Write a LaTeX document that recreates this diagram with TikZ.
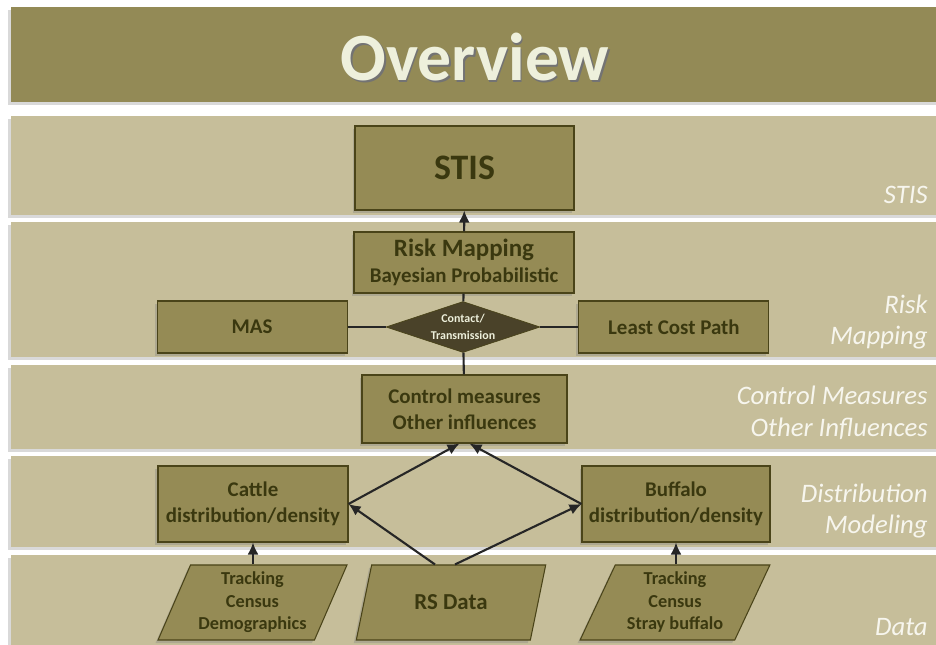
\documentclass[tikz,border=0pt]{standalone}
\usepackage{fontspec}
\setmainfont{Carlito}
\usetikzlibrary{arrows.meta,positioning,shapes.geometric,shadows}

\definecolor{olivebar}{HTML}{938A56}
\definecolor{sandband}{HTML}{C6BE9A}
\definecolor{olivebox}{HTML}{958B55}
\definecolor{olivetext}{HTML}{3A380F}
\definecolor{oliveline}{HTML}{4A4419}
\definecolor{darkdiamond}{HTML}{4A4229}
\definecolor{labelwhite}{HTML}{F7F6EE}
\definecolor{titlewhite}{HTML}{EEF0DC}
\definecolor{linkgray}{HTML}{262626}

\begin{document}
\begin{tikzpicture}[
  x=0.2mm, y=-0.2mm,
  band/.style={fill=sandband,
    drop shadow={shadow xshift=-0.6mm,shadow yshift=-0.7mm,opacity=.3}},
  box/.style={draw=oliveline,line width=0.6pt,fill=olivebox,text=olivetext,
    align=center,inner sep=0pt,font=\bfseries\fontsize{11.9}{14.7}\selectfont,
    drop shadow={shadow xshift=-0.5mm,shadow yshift=-0.6mm,opacity=.35}},
  datum/.style={box,trapezium,trapezium left angle=65,trapezium right angle=115,
    trapezium stretches=true,minimum width=3.8cm,minimum height=1.5cm,
    font=\bfseries\fontsize{10.4}{12.8}\selectfont},
  tier/.style={anchor=east,align=right,inner sep=0pt,text=labelwhite,
    font=\itshape\fontsize{15.2}{18}\selectfont},
  link/.style={draw=linkgray,line width=1.2pt,-{Latex[length=2.4mm,width=2.2mm]}},
  joint/.style={draw=linkgray,line width=1.2pt}
]
  \useasboundingbox (0,0) rectangle (936,645);
  \clip (0,0) rectangle (936,645);

  % title bar and the five tiers
  \fill[olivebar,drop shadow={shadow xshift=-0.6mm,shadow yshift=-0.7mm,opacity=.3}]
    (11,7) rectangle (940,102);
  \fill[band] (11,116) rectangle (940,215);
  \fill[band] (11,222) rectangle (940,357);
  \fill[band] (11,365) rectangle (940,449);
  \fill[band] (11,456) rectangle (940,547);
  \fill[band] (11,555) rectangle (940,660);

  \node[text=black!55,font=\bfseries\fontsize{38.5}{40}\selectfont] (titleshade) at (476.5,59.5) {Overview};
  \node[text=titlewhite,font=\bfseries\fontsize{38.5}{40}\selectfont] (title) at (475,57) {Overview};

  % tier names
  \node[tier] (tstis) at (928,195) {STIS};
  \node[tier] (trisk) at (928,322) {Risk\\Mapping};
  \node[tier] (tcontrol) at (928,413) {Control Measures\\Other Influences};
  \node[tier] (tdist) at (928,511) {Distribution\\Modeling};
  \node[tier] (tdata) at (928,627) {Data};

  % boxes
  \node[box,minimum width=4.38cm,minimum height=1.68cm,
    font=\bfseries\fontsize{20.4}{24}\selectfont] (stis) at (464.5,168) {STIS};
  \node[box,minimum width=4.4cm,minimum height=1.22cm] (risk) at (464,262.5)
    {{\fontsize{14.2}{15}\selectfont Risk Mapping}\\Bayesian Probabilistic};
  \node[diamond,aspect=3,fill=darkdiamond,draw=oliveline,inner sep=0pt,minimum width=3.08cm,
    minimum height=1.02cm,align=center,text=titlewhite,
    font=\bfseries\fontsize{6.8}{9.5}\selectfont] (contact) at (463,327) {Contact/\\Transmission};
  \node[box,minimum width=3.8cm,minimum height=1.04cm,left=0.76cm of contact] (mas) {MAS};
  \node[box,minimum width=3.8cm,minimum height=1.04cm,right=0.76cm of contact] (lcp) {Least Cost Path};
  \node[box,minimum width=4.1cm,minimum height=1.36cm] (control) at (464.5,409)
    {Control measures\\Other influences};
  \node[box,minimum width=3.8cm,minimum height=1.52cm] (cattle) at (253,504)
    {Cattle\\distribution/density};
  \node[box,minimum width=3.76cm,minimum height=1.52cm] (buffalo) at (676,504)
    {Buffalo\\distribution/density};

  % data sources
  \node[datum] (cattledata) at (252.5,602.5) {Tracking\\Census\\Demographics};
  \node[datum,font=\bfseries\fontsize{13}{15}\selectfont] (rs) at (451,602.5) {RS Data};
  \node[datum] (buffalodata) at (675,602.5) {Tracking\\Census\\Stray buffalo};

  % connectors
  \draw[link] (risk) -- (stis);
  \draw[joint] (risk) -- (contact);
  \draw[joint] (mas) -- (contact);
  \draw[joint] (contact) -- (lcp);
  \draw[joint] (contact) -- (control);
  \draw[link] (cattle.east) -- ([xshift=-1mm]control.south);
  \draw[link] (buffalo.west) -- ([xshift=1mm]control.south);
  \draw[link] ([xshift=-3.2mm]rs.north) -- (cattle.east);
  \draw[link] ([xshift=0.8mm]rs.north) -- (buffalo.west);
  \draw[link] (cattle.south |- cattledata.north) -- (cattle.south);
  \draw[link] (buffalo.south |- buffalodata.north) -- (buffalo.south);
\end{tikzpicture}
\end{document}
